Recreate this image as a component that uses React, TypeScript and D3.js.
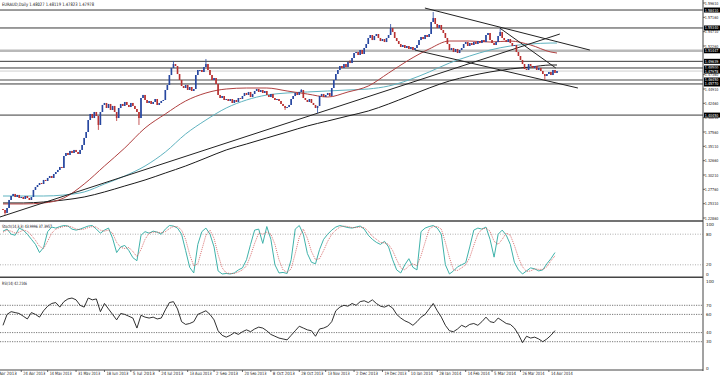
import React from "react";
import * as d3 from "d3";

// ---- price data (daily closes, EURAUD) ----
const firstOpen = 1.244;
const closes = [
  1.2423, 1.2372, 1.2457,
  1.2594, 1.2662, 1.2697, 1.2645, 1.268, 1.2628,
  1.2645, 1.2611, 1.2662, 1.2628, 1.2594, 1.2645,
  1.2765, 1.2816,
  1.285, 1.2884, 1.2867, 1.2936, 1.2919, 1.297, 1.3004, 1.297, 1.3038, 1.3072,
  1.3107, 1.3158, 1.3141,
  1.3346, 1.3397, 1.3363, 1.3432, 1.3397, 1.3449, 1.3414, 1.338, 1.3449,
  1.3534, 1.3654, 1.3756,
  1.3961, 1.4064, 1.3995, 1.4098, 1.403,
  1.3876,
  1.4098, 1.4218, 1.4252, 1.4166,
  1.4235, 1.4132, 1.4201, 1.4098, 1.3995,
  1.4166, 1.4235, 1.4201, 1.4269, 1.4218, 1.4183, 1.4252, 1.4201, 1.4149, 1.4098,
  1.3995,
  1.4337, 1.4389,
  1.4303, 1.4252, 1.4286, 1.4235, 1.4269, 1.432, 1.4218, 1.4252, 1.4286, 1.4303,
  1.4474, 1.456,
  1.473, 1.485, 1.4918, 1.4884,
  1.4747, 1.4645, 1.4542,
  1.4508, 1.456, 1.4474, 1.4525, 1.4457, 1.4491,
  1.473, 1.4816,
  1.4816, 1.4782, 1.4867, 1.4918,
  1.4816, 1.473, 1.4645, 1.4679, 1.4577,
  1.4389, 1.4337, 1.4371, 1.4303, 1.432,
  1.4286, 1.432, 1.4252, 1.4303, 1.4269, 1.4337, 1.432,
  1.4371, 1.4423, 1.4389, 1.444, 1.4354, 1.4406, 1.4457,
  1.4491, 1.444, 1.4474, 1.4423, 1.4457,
  1.4389, 1.4354, 1.4406, 1.4337, 1.4303, 1.432, 1.4286,
  1.4235, 1.4201, 1.4166, 1.4183, 1.4218,
  1.432, 1.4371, 1.4423, 1.4389, 1.444, 1.4474,
  1.4337, 1.4303, 1.4269, 1.432, 1.4252, 1.4218, 1.4166,
  1.4201,
  1.4371, 1.4406, 1.4354, 1.4389, 1.4423, 1.4371,
  1.4508, 1.4645, 1.4747,
  1.4816, 1.4884, 1.485, 1.4918, 1.4867, 1.4952, 1.4935, 1.5021,
  1.5106, 1.5123, 1.5072, 1.5157, 1.5089, 1.5192, 1.526,
  1.5363, 1.5414, 1.5328, 1.5397,
  1.5431, 1.5363, 1.5311, 1.5345, 1.5294, 1.5363, 1.5414,
  1.5533,
  1.5465, 1.5363, 1.5311,
  1.526, 1.5209, 1.5243, 1.5192, 1.5226, 1.5175, 1.5209,
  1.5157, 1.5192, 1.5243,
  1.5328, 1.538, 1.5345, 1.5414, 1.538, 1.5431,
  1.5636, 1.5704,
  1.5602, 1.5533, 1.5585, 1.5499, 1.5448,
  1.5363, 1.526,
  1.5157, 1.5192, 1.5123, 1.5175, 1.5106, 1.5157, 1.5192,
  1.526, 1.5294, 1.5226, 1.5277, 1.5243,
  1.5294, 1.526, 1.5311, 1.5277, 1.5328, 1.5294,
  1.5414, 1.5448,
  1.5328, 1.5277, 1.5243, 1.5294,
  1.5397, 1.5465,
  1.5363, 1.5328, 1.5294, 1.5345,
  1.5277, 1.5226, 1.5243,
  1.5123, 1.5055, 1.4987, 1.4918,
  1.4833, 1.4816,
  1.4918, 1.4884, 1.485,
  1.4884, 1.4816, 1.485, 1.4799, 1.4747,
  1.4713, 1.4747, 1.4782, 1.473,
  1.4816, 1.4765, 1.4798,
];
// notable wick extremes [barIndex, price]
const spikeHighs = [[84, 1.497], [100, 1.5004], [147, 1.4491], [171, 1.4987], [191, 1.5602], [212, 1.5807], [245, 1.5516]];
const spikeLows = [[1, 1.2338], [47, 1.3791], [56, 1.3944], [67, 1.3876], [139, 1.4132], [155, 1.4081], [267, 1.4645]];

// moving averages sampled at bar indices
const maIdx = [0, 10, 20, 30, 40, 50, 60, 70, 80, 90, 100, 110, 120, 130, 140, 150, 160, 170, 180, 190, 200, 210, 220, 230, 240, 250, 260, 270, 273];
const maRed = [1.2526, 1.2526, 1.2543, 1.2628, 1.2867, 1.3175, 1.3483, 1.3824, 1.4064, 1.4286, 1.4423, 1.4491, 1.4508, 1.4508, 1.4457, 1.4405, 1.4354, 1.444, 1.4542, 1.4764, 1.4987, 1.5175, 1.5311, 1.5311, 1.5294, 1.5311, 1.5243, 1.5123, 1.5106];
const maTeal = [1.2662, 1.2662, 1.2662, 1.2679, 1.2731, 1.2867, 1.3004, 1.3175, 1.3414, 1.3722, 1.3961, 1.4166, 1.4303, 1.4388, 1.4423, 1.444, 1.4457, 1.4474, 1.4491, 1.4542, 1.4645, 1.4782, 1.4935, 1.5055, 1.5157, 1.5226, 1.526, 1.5277, 1.5277];
const maBlack = [1.2543, 1.2543, 1.256, 1.2594, 1.2645, 1.2731, 1.2833, 1.2936, 1.3055, 1.3175, 1.3312, 1.3449, 1.3551, 1.3654, 1.3756, 1.3859, 1.3944, 1.403, 1.4115, 1.4235, 1.4371, 1.4508, 1.4628, 1.4713, 1.4782, 1.4833, 1.4867, 1.4901, 1.4901];

// drawn trendlines [[barIndex, price], [barIndex, price]]
const trendLines = [
  [[-1.5, 1.2303], [274.4, 1.5431]],
  [[207.9, 1.5875], [289.2, 1.5157]],
  [[244.8, 1.5533], [272.4, 1.485]],
  [[203, 1.5157], [283.3, 1.4508]],
];
// horizontal levels
const levels = [1.5841, 1.5534, 1.51447, 1.49639, 1.485, 1.47978, 1.4645, 1.4577, 1.4045];

const priceTicks = [1.5961, 1.5716, 1.5471, 1.5226, 1.4981, 1.4736, 1.4491, 1.4246, 1.4001, 1.3756, 1.3511, 1.3266, 1.3021, 1.2776, 1.2531, 1.2286];

// oscillators sampled every 2 bars
const stochK = [86, 90, 80, 78, 92, 88, 80, 70, 60, 44, 54, 85, 94, 92, 95, 97, 96, 90, 88, 90, 93, 96, 97, 90, 82, 88, 92, 72, 44, 55, 58, 48, 34, 28, 78, 85, 82, 86, 84, 80, 90, 97, 96, 92, 80, 48, 15, 4, 60, 85, 92, 80, 55, 8, 2, 3, 2, 4, 10, 14, 30, 60, 88, 90, 62, 95, 70, 20, 4, 5, 3, 30, 90, 97, 80, 42, 25, 22, 50, 70, 80, 88, 94, 97, 95, 93, 92, 94, 96, 90, 78, 70, 64, 60, 66, 55, 30, 10, 4, 20, 32, 15, 10, 85, 92, 95, 97, 92, 80, 20, 2, 8, 16, 20, 24, 55, 88, 92, 90, 94, 70, 35, 80, 88, 78, 60, 25, 10, 2, 8, 14, 12, 8, 10, 22, 32, 44];
const stochD = [84, 88, 86, 82, 84, 88, 86, 78, 68, 56, 52, 66, 82, 90, 93, 95, 96, 94, 90, 89, 90, 93, 95, 94, 88, 86, 88, 82, 64, 54, 52, 54, 46, 36, 50, 70, 82, 84, 84, 83, 85, 91, 95, 95, 88, 70, 40, 18, 22, 50, 78, 88, 72, 40, 14, 4, 3, 3, 6, 10, 18, 38, 62, 82, 80, 84, 80, 60, 30, 10, 5, 12, 42, 74, 90, 72, 46, 30, 32, 48, 66, 80, 88, 94, 96, 95, 93, 93, 94, 93, 86, 76, 70, 64, 63, 60, 48, 30, 14, 10, 18, 22, 18, 38, 64, 90, 95, 95, 90, 64, 34, 10, 9, 14, 20, 34, 58, 80, 90, 92, 86, 66, 60, 70, 82, 78, 58, 34, 16, 7, 8, 12, 11, 11, 16, 28, 37.4];
const rsi = [48, 60, 63, 62, 61, 58, 55, 62, 60, 57, 64, 69, 72, 73, 68, 74, 77, 78, 76, 70, 68, 78, 76, 77, 63, 72, 66, 60, 54, 61, 60, 58, 56, 45, 59, 57, 56, 57, 55, 56, 65, 73, 74, 66, 52, 49, 50, 52, 60, 62, 64, 60, 54, 42, 37, 35, 37, 40, 38, 41, 43, 41, 44, 46, 45, 42, 38, 36, 34, 33, 32, 37, 42, 47, 45, 43, 42, 36, 44, 45, 47, 52, 64, 68, 70, 69, 72, 70, 74, 75, 73, 76, 72, 69, 68, 70, 67, 60, 56, 53, 51, 48, 52, 57, 60, 66, 72, 64, 57, 48, 42, 41, 44, 48, 46, 49, 50, 48, 52, 57, 52, 51, 56, 53, 50, 49, 45, 38, 29, 36, 34, 35, 33, 30, 33, 37, 42.2];
const stochLevels = [80, 20];
const stochTicks = [100, 80, 20, 0];
const rsiLevels = [70, 60, 40, 30];
const rsiTicks = [100, 70, 60, 40, 30, 0];

const dateIdx = [-5, 9, 22, 36, 50, 63, 77, 91, 104, 118, 132, 146, 159, 173, 187, 200, 214, 228, 241, 255, 269];
const dateLabels = ["5 Apr 2013", "24 Apr 2013", "14 May 2013", "31 May 2013", "18 Jun 2013", "5 Jul 2013", "24 Jul 2013", "13 Aug 2013", "2 Sep 2013", "20 Sep 2013", "8 Oct 2013", "28 Oct 2013", "13 Nov 2013", "2 Dec 2013", "19 Dec 2013", "10 Jan 2014", "28 Jan 2014", "14 Feb 2014", "5 Mar 2014", "26 Mar 2014", "14 Apr 2014"];

const title = "EURAUD,Daily  1.48027 1.48119 1.47823 1.47978";
const stochTitle = "Stoch(14,3,3) 43.9996 37.3957";
const rsiTitle = "RSI(14) 42.2146";

const FONT = "DejaVu Sans, Verdana, sans-serif";

export default function App() {
  const AX = 703; // right axis x
  const x = d3.scaleLinear().domain([0, 273]).range([3, 557]);
  const yP = d3.scaleLinear().domain([1.2286, 1.5961]).range([218, 3]);
  const yS = d3.scaleLinear().domain([0, 100]).range([275, 224]);
  const yR = d3.scaleLinear().domain([0, 100]).range([369, 278]);

  const hiMap = new Map(spikeHighs.map((d) => [d[0], d[1]]));
  const loMap = new Map(spikeLows.map((d) => [d[0], d[1]]));

  const candles = closes.map((c, i) => {
    const o = i === 0 ? firstOpen : closes[i - 1];
    const top = Math.max(o, c);
    const bot = Math.min(o, c);
    const hi = Math.max(top, hiMap.get(i) ?? top);
    const lo = Math.min(bot, loMap.get(i) ?? bot);
    return { i, o, c, hi, lo, top, bot, up: c >= o };
  });

  const maLine = d3
    .line<number>()
    .x((_, k) => x(maIdx[k]))
    .y((d) => yP(d))
    .curve(d3.curveMonotoneX);

  const oscLine = (scale: d3.ScaleLinear<number, number>) =>
    d3
      .line<number>()
      .x((_, j) => x(j * 2))
      .y((d) => scale(d));

  const levelStyle = (k: number) => {
    if (k === 2) return { stroke: "#b9b9b9", w: 2.5 };
    if (k === 5) return { stroke: "#cfcfcf", w: 1 };
    if (k === 6) return { stroke: "#a5a5a5", w: 2 };
    return { stroke: "#3a3a3a", w: 1 };
  };

  // only the tick label fully covered by a level box is dropped
  const visibleTicks = priceTicks.filter((p) => levels.every((l) => Math.abs(yP(l) - yP(p)) > 1.5));

  return (
    <>
      <style>{"body{margin:0;background:#fff}"}</style>
      <svg width={720} height={375} style={{ display: "block", background: "#fff" }} fontFamily={FONT}>
        <defs>
          <clipPath id="cpMain">
            <rect x={0} y={0} width={AX} height={221} />
          </clipPath>
          <clipPath id="cpStoch">
            <rect x={0} y={222} width={AX} height={55} />
          </clipPath>
          <clipPath id="cpRsi">
            <rect x={0} y={278} width={AX} height={92} />
          </clipPath>
        </defs>

        {/* ---------- main panel ---------- */}
        <g clipPath="url(#cpMain)">
          {levels.map((p, k) => {
            const s = levelStyle(k);
            return <line key={"lv" + k} x1={0} x2={AX} y1={yP(p)} y2={yP(p)} stroke={s.stroke} strokeWidth={s.w} />;
          })}
          <path d={maLine(maBlack) || ""} fill="none" stroke="#1a1a1a" strokeWidth={1} />
          <path d={maLine(maTeal) || ""} fill="none" stroke="#5fb3c0" strokeWidth={1} />
          <path d={maLine(maRed) || ""} fill="none" stroke="#b04040" strokeWidth={1} />
          {trendLines.map((t, k) => (
            <line key={"tl" + k} x1={x(t[0][0])} y1={yP(t[0][1])} x2={x(t[1][0])} y2={yP(t[1][1])} stroke="#222" strokeWidth={1} />
          ))}
          {candles.map((d) => {
            const col = d.up ? "#2747a0" : "#b83030";
            const cx = x(d.i);
            const yt = yP(d.top);
            const h = Math.max(1, yP(d.bot) - yt);
            return (
              <g key={"c" + d.i}>
                <line x1={cx} x2={cx} y1={yP(d.hi)} y2={yP(d.lo)} stroke={col} strokeWidth={0.8} />
                <rect x={cx - 0.8} y={yt} width={1.6} height={h} fill={col} />
              </g>
            );
          })}
        </g>
        <text x={2} y={6} fontSize={4.6} fill="#111" textLength={92} lengthAdjust="spacingAndGlyphs">
          {title}
        </text>

        {/* ---------- stochastic ---------- */}
        <g clipPath="url(#cpStoch)">
          {stochLevels.map((v) => (
            <line key={"sl" + v} x1={0} x2={AX} y1={yS(v)} y2={yS(v)} stroke="#9a9a9a" strokeWidth={0.8} strokeDasharray="1,1.5" />
          ))}
          <path d={oscLine(yS)(stochK) || ""} fill="none" stroke="#3fb2aa" strokeWidth={1} />
          <path d={oscLine(yS)(stochD) || ""} fill="none" stroke="#d05050" strokeWidth={0.8} strokeDasharray="1,1" />
        </g>
        <text x={2} y={227.5} fontSize={4.4} fill="#111" textLength={50} lengthAdjust="spacingAndGlyphs">
          {stochTitle}
        </text>

        {/* ---------- RSI ---------- */}
        <g clipPath="url(#cpRsi)">
          {rsiLevels.map((v) => (
            <line key={"rl" + v} x1={0} x2={AX} y1={yR(v)} y2={yR(v)} stroke="#555" strokeWidth={0.8} strokeDasharray="1.2,1.2" />
          ))}
          <path d={oscLine(yR)(rsi) || ""} fill="none" stroke="#1a1a1a" strokeWidth={0.9} />
        </g>
        <text x={2} y={284.5} fontSize={4.4} fill="#111" textLength={25} lengthAdjust="spacingAndGlyphs">
          {rsiTitle}
        </text>

        {/* ---------- frame ---------- */}
        <line x1={0} x2={AX} y1={221} y2={221} stroke="#444" strokeWidth={1.6} />
        <line x1={0} x2={AX} y1={277.3} y2={277.3} stroke="#444" strokeWidth={1.6} />
        <line x1={0} x2={AX} y1={370} y2={370} stroke="#444" strokeWidth={1} />
        <line x1={AX} x2={AX} y1={0} y2={371} stroke="#444" strokeWidth={1} />

        {/* price axis */}
        {visibleTicks.map((p) => (
          <g key={"pt" + p}>
            <line x1={AX} x2={AX + 2} y1={yP(p)} y2={yP(p)} stroke="#444" strokeWidth={0.8} />
            <text x={704.8} y={yP(p) + 1.5} fontSize={4} fill="#222" textLength={13.5} lengthAdjust="spacingAndGlyphs">
              {d3.format(".5f")(p)}
            </text>
          </g>
        ))}
        {levels.map((p) => (
          <g key={"bx" + p}>
            <rect x={704} y={yP(p) - 2.5} width={16} height={5} fill="#000" />
            <text x={704.8} y={yP(p) + 1.5} fontSize={4} fill="#fff" textLength={13.5} lengthAdjust="spacingAndGlyphs">
              {d3.format(".5f")(p)}
            </text>
          </g>
        ))}
        {stochTicks.map((v) => (
          <text key={"st" + v} x={706} y={Math.min(Math.max(yS(v) + 1.6, 226), 276)} fontSize={4.2} fill="#222">
            {v}
          </text>
        ))}
        {rsiTicks.map((v) => (
          <text key={"rt" + v} x={706} y={Math.min(Math.max(yR(v) + 1.6, 283), 369.5)} fontSize={4.2} fill="#222">
            {v}
          </text>
        ))}

        {/* time axis */}
        <g>
          {dateIdx.map((i, k) => (
            <g key={"d" + k}>
              <line x1={x(i)} x2={x(i)} y1={370} y2={372} stroke="#444" strokeWidth={0.8} />
              <text x={x(i) + 2} y={375} fontSize={4.4} fill="#222" textLength={22} lengthAdjust="spacingAndGlyphs">
                {dateLabels[k]}
              </text>
            </g>
          ))}
        </g>
      </svg>
    </>
  );
}
